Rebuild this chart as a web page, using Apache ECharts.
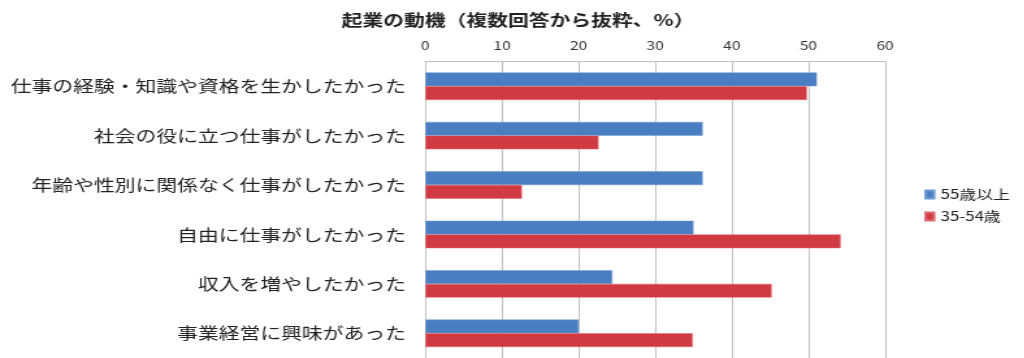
<!DOCTYPE html>
<html>
<head>
<meta charset="utf-8">
<script src="https://cdn.jsdelivr.net/npm/echarts@6/dist/echarts.min.js"></script>
<style>
html,body{margin:0;padding:0;background:#fff;overflow:hidden;}
#wrap{width:1024px;height:358px;overflow:hidden;}
#chart{width:788px;height:358px;transform:scaleX(1.3);transform-origin:0 0;}
</style>
</head>
<body>
<div id="wrap"><div id="chart"></div></div>
<script>
const titleText = '起業の動機（複数回答から抜粋、%）';
const categories = [
  '仕事の経験・知識や資格を生かしたかった',
  '社会の役に立つ仕事がしたかった',
  '年齢や性別に関係なく仕事がしたかった',
  '自由に仕事がしたかった',
  '収入を増やしたかった',
  '事業経営に興味があった'
];
const seriesNames = ['55歳以上', '35-54歳'];
const over55 = [51.1, 36.2, 36.2, 35.0, 24.4, 20.0];
const age35to54 = [49.8, 22.6, 12.6, 54.2, 45.2, 34.9];
const xTicks = { min: 0, max: 60, interval: 10 };

const font = '"Noto Sans CJK JP", "Noto Sans", sans-serif';
const chart = echarts.init(document.getElementById('chart'));
chart.setOption({
  animation: false,
  backgroundColor: '#fff',
  title: {
    text: titleText,
    left: 393.5, top: 7, textAlign: 'center',
    textStyle: { fontFamily: font, fontSize: 16, fontWeight: 'bold', color: '#222' }
  },
  legend: {
    orient: 'vertical', left: 706, top: 183,
    itemWidth: 6.5, itemHeight: 8, itemGap: 9,
    icon: 'rect',
    textStyle: { fontFamily: font, fontSize: 13, color: '#222' },
    data: seriesNames
  },
  grid: { left: 327.2, right: 107.2, top: 61.5, height: 298, containLabel: false },
  xAxis: {
    type: 'value', position: 'top',
    min: xTicks.min, max: xTicks.max, interval: xTicks.interval,
    axisLine: { show: true, lineStyle: { color: '#bfbfbf', width: 1 } },
    axisTick: { show: false },
    axisLabel: { fontFamily: font, fontSize: 12, color: '#333', margin: 10 },
    splitLine: { show: true, lineStyle: { color: '#bfbfbf', width: 1 } }
  },
  yAxis: {
    type: 'category', inverse: true, data: categories,
    axisLine: { show: false }, axisTick: { show: false },
    axisLabel: { fontFamily: font, fontSize: 16, color: '#222', margin: 15 }
  },
  series: [
    { name: seriesNames[0], type: 'bar', data: over55, barWidth: 13.7, barGap: '0%',
      itemStyle: { color: '#4a7ec2', borderColor: '#6f9ad3', borderWidth: 0.5 } },
    { name: seriesNames[1], type: 'bar', data: age35to54, barWidth: 13.7, barGap: '0%',
      itemStyle: { color: '#d03a43', borderColor: '#e06870', borderWidth: 0.5 } }
  ]
});
</script>
</body>
</html>
